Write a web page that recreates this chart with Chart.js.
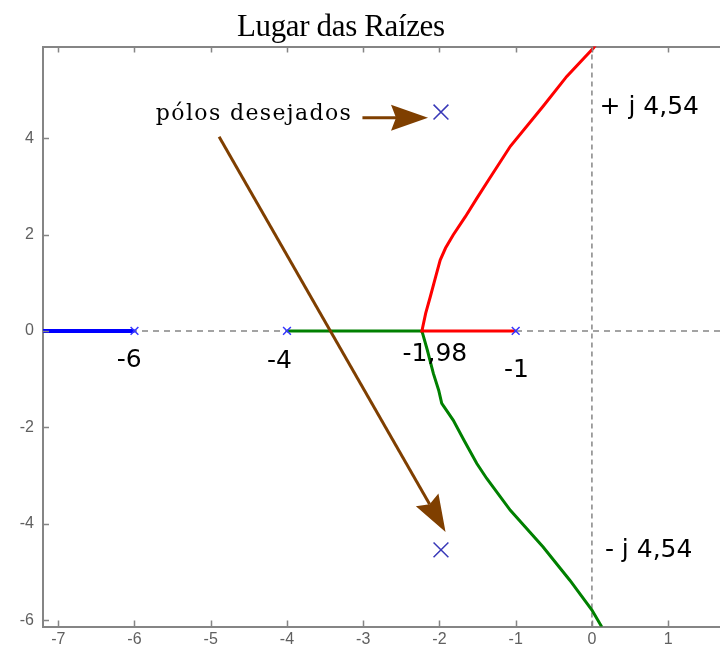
<!DOCTYPE html>
<html>
<head>
<meta charset="utf-8">
<script src="https://cdn.jsdelivr.net/npm/chart.js@4.4.1/dist/chart.umd.min.js"></script>
<style>
  html, body { margin: 0; padding: 0; background: #ffffff; }
  canvas { display: block; }
</style>
</head>
<body>
<canvas id="locus" width="720" height="654"></canvas>
<script>
// Axis ticks
const xTicks = [-7, -6, -5, -4, -3, -2, -1, 0, 1];
const yTicks = [-6, -4, -2, 0, 2, 4];

// Open-loop poles on the real axis
const openLoopPoles = [-6, -4, -1];

// Desired closed-loop poles: -1,98 ± j 4,54
const desiredRe = [-1.98, -1.98];
const desiredIm = [4.54, -4.54];

// Branch leaving the pole at -6 towards -infinity
const blueX = [-7.2, -6];
const blueY = [0, 0];

// Branch from the pole at -1, through the breakaway point, to the upper half-plane
const redX = [-1, -2.23, -2.18, -2.12, -2.05, -1.99, -1.92, -1.82, -1.66, -1.51, -1.36, -1.07, -0.64, -0.33, 0.02, 0.07];
const redY = [0, 0, 0.37, 0.71, 1.12, 1.47, 1.72, 1.99, 2.37, 2.75, 3.12, 3.83, 4.66, 5.28, 5.87, 5.98];

// Branch from the pole at -4, through the breakaway point, to the lower half-plane
const greenX = [-4, -2.23, -2.16, -2.08, -2.01, -1.97, -1.82, -1.68, -1.51, -1.38, -1.07, -0.64, -0.29, 0, 0.13];
const greenY = [0, 0, -0.39, -0.88, -1.23, -1.50, -1.85, -2.26, -2.75, -3.06, -3.72, -4.48, -5.17, -5.79, -6.14];

// Axis range
const xRange = [-7.2, 1.68];
const yRange = [-6.13, 5.9];

const pts = (xs, ys) => xs.map((x, i) => ({ x: x, y: ys[i] }));

const GRAY = '#858585';

// Text and arrow annotations, placed in data units
const labels = [
  { text: '-6', x: -6.07, y: -0.62, align: 'center' },
  { text: '-4', x: -4.10, y: -0.63, align: 'center' },
  { text: '-1,98', x: -2.06, y: -0.48, align: 'center' },
  { text: '-1', x: -0.99, y: -0.81, align: 'center' },
  { text: '+ j 4,54', x: 0.10, y: 4.64, align: 'left' },
  { text: '- j 4,54', x: 0.17, y: -4.56, align: 'left' }
];
const arrows = [
  { from: [-3.01, 4.42], to: [-2.15, 4.42] },
  { from: [-4.89, 4.03], to: [-1.92, -4.17] }
];

function drawSpaced(ctx, text, left, y, width) {
  ctx.letterSpacing = '0px';
  const w = ctx.measureText(text).width;
  const ls = (width - w) / (text.length - 1);
  ctx.letterSpacing = ls.toFixed(2) + 'px';
  ctx.textAlign = 'left';
  ctx.fillText(text, left, y);
  ctx.letterSpacing = '0px';
}

function drawArrow(ctx, x0, y0, x1, y1) {
  const ang = Math.atan2(y1 - y0, x1 - x0);
  const headLen = 37, half = 13, notch = 5;
  const bx = x1 - headLen * Math.cos(ang), by = y1 - headLen * Math.sin(ang);
  ctx.strokeStyle = '#7f3f00';
  ctx.fillStyle = '#7f3f00';
  ctx.lineWidth = 3;
  ctx.beginPath();
  ctx.moveTo(x0, y0);
  ctx.lineTo(bx + notch * Math.cos(ang), by + notch * Math.sin(ang));
  ctx.stroke();
  const px = -Math.sin(ang), py = Math.cos(ang);
  ctx.beginPath();
  ctx.moveTo(x1, y1);
  ctx.lineTo(bx + half * px, by + half * py);
  ctx.lineTo(bx + notch * Math.cos(ang), by + notch * Math.sin(ang));
  ctx.lineTo(bx - half * px, by - half * py);
  ctx.closePath();
  ctx.fill();
}

const decorations = {
  id: 'decorations',
  afterDatasetsDraw(chart) {
    const ctx = chart.ctx;
    const xs = chart.scales.x, ys = chart.scales.y;
    const area = chart.chartArea;
    ctx.save();

    // inward tick marks on left, bottom and top edges
    ctx.strokeStyle = GRAY;
    ctx.lineWidth = 1.5;
    ctx.beginPath();
    xTicks.forEach(v => {
      const p = Math.round(xs.getPixelForValue(v)) + 0.5;
      ctx.moveTo(p, area.bottom); ctx.lineTo(p, area.bottom - 6);
      ctx.moveTo(p, area.top); ctx.lineTo(p, area.top + 6);
    });
    yTicks.forEach(v => {
      const p = Math.round(ys.getPixelForValue(v)) + 0.5;
      ctx.moveTo(area.left, p); ctx.lineTo(area.left + 6, p);
    });
    ctx.stroke();

    // arrows pointing at the desired poles
    arrows.forEach(a => {
      drawArrow(ctx,
        xs.getPixelForValue(a.from[0]), ys.getPixelForValue(a.from[1]),
        xs.getPixelForValue(a.to[0]), ys.getPixelForValue(a.to[1]));
    });

    // value labels
    ctx.fillStyle = '#000000';
    ctx.font = '25px "DejaVu Sans"';
    ctx.textBaseline = 'middle';
    labels.forEach(l => {
      ctx.textAlign = l.align;
      ctx.fillText(l.text, xs.getPixelForValue(l.x), ys.getPixelForValue(l.y));
    });

    // annotation text
    ctx.font = '22px "DejaVu Serif"';
    ctx.textBaseline = 'middle';
    drawSpaced(ctx, 'pólos desejados', xs.getPixelForValue(-5.72), ys.getPixelForValue(4.49), 195);

    // title
    ctx.font = '31px "Liberation Serif"';
    ctx.textBaseline = 'middle';
    drawSpaced(ctx, 'Lugar das Raízes', 237, 28, 208);

    ctx.restore();
  }
};

const axisBorder = { display: true, color: GRAY, width: 2 };
const noSidePadding = s => { s.paddingLeft = 0; s.paddingRight = 0; };

new Chart(document.getElementById('locus'), {
  type: 'scatter',
  data: {
    datasets: [
      { data: pts([xRange[0], xRange[1]], [0, 0]), showLine: true, borderColor: GRAY, borderWidth: 1.5,
        borderDash: [6, 5], pointRadius: 0, order: 10 },
      { data: pts([0, 0], [yRange[0], yRange[1]]), showLine: true, borderColor: GRAY, borderWidth: 1.5,
        borderDash: [5, 4], pointRadius: 0, order: 10 },
      { data: pts(blueX, blueY), showLine: true, borderColor: '#0000ff', borderWidth: 4, pointRadius: 0, order: 5 },
      { data: pts(greenX, greenY), showLine: true, borderColor: '#008000', borderWidth: 3, pointRadius: 0, order: 5 },
      { data: pts(redX, redY), showLine: true, borderColor: '#ff0000', borderWidth: 3, pointRadius: 0, order: 4 },
      { data: openLoopPoles.map(p => ({ x: p, y: 0 })), showLine: false, pointStyle: 'crossRot',
        pointRadius: 5.5, borderColor: '#3535ff', borderWidth: 1.5, backgroundColor: '#3535ff', order: 1 },
      { data: pts(desiredRe, desiredIm), showLine: false, pointStyle: 'crossRot',
        pointRadius: 10.5, borderColor: '#3838b8', borderWidth: 1.5, backgroundColor: '#3838b8', order: 1 }
    ]
  },
  options: {
    responsive: false,
    devicePixelRatio: 1,
    animation: false,
    layout: { padding: 0, autoPadding: false },
    plugins: { legend: { display: false }, tooltip: { enabled: false }, title: { display: false } },
    elements: { line: { tension: 0 } },
    scales: {
      x: {
        type: 'linear', position: 'bottom', min: xRange[0], max: xRange[1],
        afterBuildTicks: s => { s.ticks = xTicks.map(v => ({ value: v })); },
        afterFit: s => { s.height = 27.5; noSidePadding(s); },
        grid: { display: false, drawTicks: false },
        border: axisBorder,
        ticks: { color: '#606060', font: { family: 'Liberation Sans', size: 16 }, padding: 3, maxRotation: 0 }
      },
      xTop: {
        type: 'linear', position: 'top', min: xRange[0], max: xRange[1],
        afterBuildTicks: s => { s.ticks = xTicks.map(v => ({ value: v })); },
        afterFit: s => { s.height = 46.5; noSidePadding(s); },
        grid: { display: false, drawTicks: false },
        border: axisBorder,
        ticks: { display: false }
      },
      y: {
        type: 'linear', position: 'left', min: yRange[0], max: yRange[1],
        afterBuildTicks: s => { s.ticks = yTicks.map(v => ({ value: v })); },
        afterFit: s => { s.width = 43; s.paddingTop = 0; s.paddingBottom = 0; },
        grid: { display: false, drawTicks: false },
        border: axisBorder,
        ticks: { color: '#606060', font: { family: 'Liberation Sans', size: 16 }, padding: 9 }
      }
    }
  },
  plugins: [decorations]
});
</script>
</body>
</html>
